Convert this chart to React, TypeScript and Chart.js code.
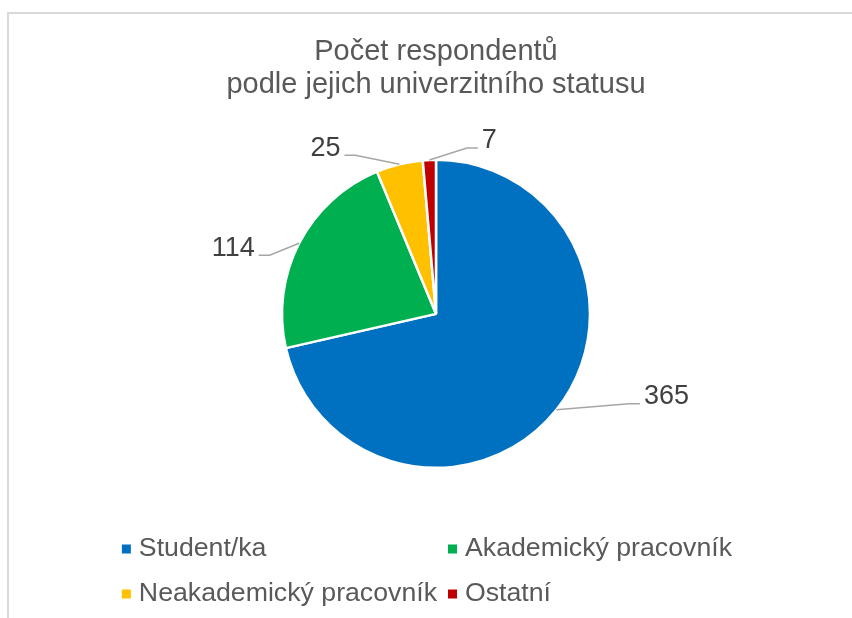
import React, { useEffect, useRef } from "react";
import { Chart, registerables } from "chart.js";

Chart.register(...registerables);

const categories = ["Student/ka", "Akademický pracovník", "Neakademický pracovník", "Ostatní"];
const values = [365, 114, 25, 7];
const colors = ["#0070C0", "#00B050", "#FFC000", "#C00000"];
const titleLines = ["Počet respondentů", "podle jejich univerzitního statusu"];

const FONT = "'Liberation Sans', Arial, sans-serif";

const leaderLabels = {
  id: "leaderLabels",
  afterDatasetsDraw(chart: any, _args: any, opts: any) {
    const ctx = chart.ctx;
    const meta = chart.getDatasetMeta(0);
    ctx.save();
    ctx.font = `${opts.size}px ${FONT}`;
    ctx.textAlign = "center";
    ctx.textBaseline = "middle";
    meta.data.forEach((arc: any, i: number) => {
      const p = arc.getProps(["x", "y", "startAngle", "endAngle", "outerRadius"], true);
      const mid = (p.startAngle + p.endAngle) / 2;
      const ax = p.x + Math.cos(mid) * p.outerRadius;
      const ay = p.y + Math.sin(mid) * p.outerRadius;
      const [dx, dy] = opts.offsets[i];
      const lx = ax + dx;
      const ly = ay + dy;
      const text = String(chart.data.datasets[0].data[i]);
      const tw = ctx.measureText(text).width;
      const side = dx > 0 ? 1 : -1;
      const endX = lx - side * (tw / 2 + 4);
      const lineY = ly + 7;
      const elbowX = endX - side * 11;
      ctx.strokeStyle = "#A6A6A6";
      ctx.lineWidth = 1.5;
      ctx.beginPath();
      ctx.moveTo(ax, ay);
      ctx.lineTo(elbowX, lineY);
      ctx.lineTo(endX, lineY);
      ctx.stroke();
      ctx.fillStyle = "#404040";
      ctx.fillText(text, lx, ly);
    });
    ctx.restore();
  },
};

const gridLegend = {
  id: "gridLegend",
  afterDraw(chart: any, _args: any, opts: any) {
    const ctx = chart.ctx;
    const area = chart.chartArea;
    ctx.save();
    ctx.font = `${opts.size}px ${FONT}`;
    ctx.textAlign = "left";
    ctx.textBaseline = "middle";
    const box = 9;
    const gap = 8;
    const labels: string[] = chart.data.labels;
    const maxW = Math.max(...labels.map((l) => box + gap + ctx.measureText(l).width));
    const colW = maxW + 11;
    const totalW = 2 * colW - 11;
    const cx = (area.left + area.right) / 2 + opts.shift;
    const left = cx - totalW / 2;
    labels.forEach((l, i) => {
      const col = i % 2;
      const row = Math.floor(i / 2);
      const x = left + col * colW;
      const y = area.bottom + opts.firstRow + row * opts.rowGap;
      ctx.fillStyle = chart.data.datasets[0].backgroundColor[i];
      ctx.fillRect(x, y - box / 2, box, box);
      ctx.fillStyle = "#595959";
      ctx.fillText(l, x + box + gap, y);
    });
    ctx.restore();
  },
};

export default function App() {
  const ref = useRef<HTMLCanvasElement>(null);
  useEffect(() => {
    if (!ref.current) return;
    const chart = new Chart(ref.current, {
      type: "pie",
      data: {
        labels: categories,
        datasets: [
          {
            data: values,
            backgroundColor: colors,
            borderColor: "#FFFFFF",
            borderWidth: 2.5,
            radius: 154,
          } as any,
        ],
      },
      plugins: [leaderLabels, gridLegend],
      options: {
        responsive: false,
        animation: false,
        events: [],
        layout: { padding: { top: 0, left: 20, right: 0, bottom: 112 } },
        plugins: {
          legend: { display: false },
          tooltip: { enabled: false },
          title: {
            display: true,
            text: titleLines,
            color: "#595959",
            font: { family: FONT, size: 29, weight: "normal", lineHeight: 1.15 },
            padding: { top: 35, bottom: 20 },
          },
          leaderLabels: {
            size: 27,
            offsets: [
              [110, -13],
              [-66, 5],
              [-74, -16],
              [60, -19],
            ],
          },
          gridLegend: { size: 26.7, shift: 6.5, firstRow: 43, rowGap: 45 },
        } as any,
      },
    });
    return () => chart.destroy();
  }, []);
  return (
    <div style={{ position: "fixed", left: 0, top: 0, width: 852, height: 618, background: "#fff", overflow: "hidden" }}>
      <div
        style={{
          position: "absolute",
          left: 7,
          top: 12,
          width: 900,
          height: 700,
          borderTop: "2px solid #D9D9D9",
          borderLeft: "2px solid #D9D9D9",
        }}
      />
      <canvas ref={ref} width={852} height={618} style={{ position: "absolute", left: 0, top: 0 }} />
    </div>
  );
}
